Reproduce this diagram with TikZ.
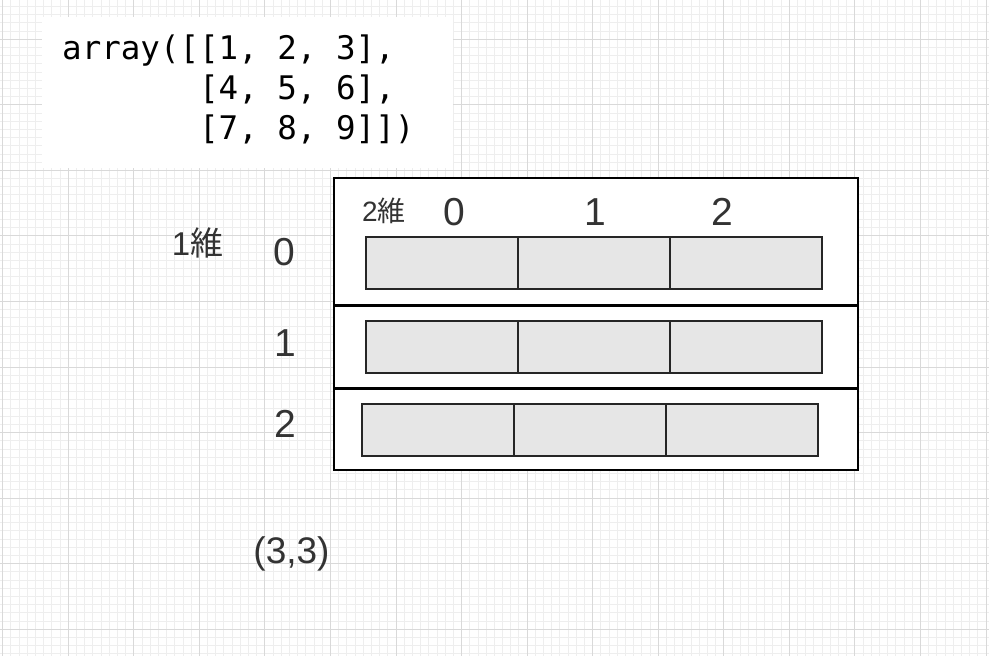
\documentclass[tikz,border=0pt]{standalone}
\usepackage{fontspec}
\setmainfont{Liberation Sans}
\setmonofont{DejaVu Sans Mono}
\newfontfamily\cjk{Noto Sans CJK JP}
\usetikzlibrary{positioning}
\definecolor{gridMinor}{HTML}{EEEEEE}
\definecolor{gridMajor}{HTML}{D9D9D9}
\definecolor{cellFill}{HTML}{E6E6E6}
\definecolor{labelText}{HTML}{333333}
\tikzset{
    styleRow/.style={draw=black, line width=2pt, fill=white, minimum width=524pt, inner sep=0pt, outer sep=0pt}, % one row of the array
    styleCell/.style={draw=black!85, line width=1.6pt, fill=cellFill, minimum width=152pt, minimum height=52pt, inner sep=0pt, outer sep=0pt}, % one element
    styleLabel/.style={text=labelText, inner sep=0pt, anchor=base}, % index labels
    styleCode/.style={font=\ttfamily\fontsize{32.5pt}{40pt}\selectfont, text=black, inner sep=0pt, anchor=base west},
}

\begin{document}
\begin{tikzpicture}[x=1pt, y=-1pt]
    \useasboundingbox (0,0) rectangle (989,656);
    % background grid
    \fill[white] (0,0) rectangle (989,656);
    \foreach \i in {0,...,120}
        \draw[gridMinor, line width=1pt] ({2.75+\i*8.194},0) -- ({2.75+\i*8.194},656);
    \foreach \i in {0,...,79}
        \draw[gridMinor, line width=1pt] (0,{6.52+\i*8.194}) -- (989,{6.52+\i*8.194});
    \foreach \i in {0,...,15}
        \draw[gridMajor, line width=1pt] ({2.75+\i*65.55},0) -- ({2.75+\i*65.55},656);
    \foreach \i in {0,...,9}
        \draw[gridMajor, line width=1pt] (0,{39.3+\i*65.55}) -- (989,{39.3+\i*65.55});

    % printed array
    \fill[white] (42,17) rectangle (453,168);
    \node[styleCode] (code1) at (62,59) {array([[1, 2, 3],};
    \node[styleCode] (code2) at ([yshift=-40pt]code1.base west) {\phantom{array([}[4, 5, 6],};
    \node[styleCode] (code3) at ([yshift=-40pt]code2.base west) {\phantom{array([}[7, 8, 9]])};

    % rows
    \node[styleRow, minimum height=126.5pt] (row0) at (596,241.25) {};
    \node[styleRow, minimum height=82.5pt] (row1) at (596,346.75) {};
    \node[styleRow, minimum height=81pt] (row2) at (596,429.5) {};

    % elements
    \node[styleCell] (c00) at (442,263) {};
    \node[styleCell, right=0pt of c00] (c01) {};
    \node[styleCell, right=0pt of c01] (c02) {};
    \node[styleCell] (c10) at (442,347) {};
    \node[styleCell, right=0pt of c10] (c11) {};
    \node[styleCell, right=0pt of c11] (c12) {};
    \node[styleCell] (c20) at (438,430) {};
    \node[styleCell, right=0pt of c20] (c21) {};
    \node[styleCell, right=0pt of c21] (c22) {};

    % axis labels
    \node[styleLabel, font=\fontsize{28pt}{30pt}\selectfont] (dim2) at (384,221.7) {2{\cjk 維}};
    \node[styleLabel, font=\fontsize{39pt}{40pt}\selectfont] (col0) at (454,225) {0};
    \node[styleLabel, font=\fontsize{39pt}{40pt}\selectfont] (col1) at (595.6,225) {1};
    \node[styleLabel, font=\fontsize{39pt}{40pt}\selectfont] (col2) at (722.5,225) {2};
    \node[styleLabel, font=\fontsize{33pt}{35pt}\selectfont] (dim1) at (197.5,255) {1{\cjk 維}};
    \node[styleLabel, font=\fontsize{39pt}{40pt}\selectfont] (rowlab0) at (284,265) {0};
    \node[styleLabel, font=\fontsize{39pt}{40pt}\selectfont] (rowlab1) at (285.6,356) {1};
    \node[styleLabel, font=\fontsize{39pt}{40pt}\selectfont] (rowlab2) at (285,437) {2};
    \node[styleLabel, font=\fontsize{37pt}{39pt}\selectfont] (shape) at (291.5,563) {(3,3)};
\end{tikzpicture}
\end{document}
